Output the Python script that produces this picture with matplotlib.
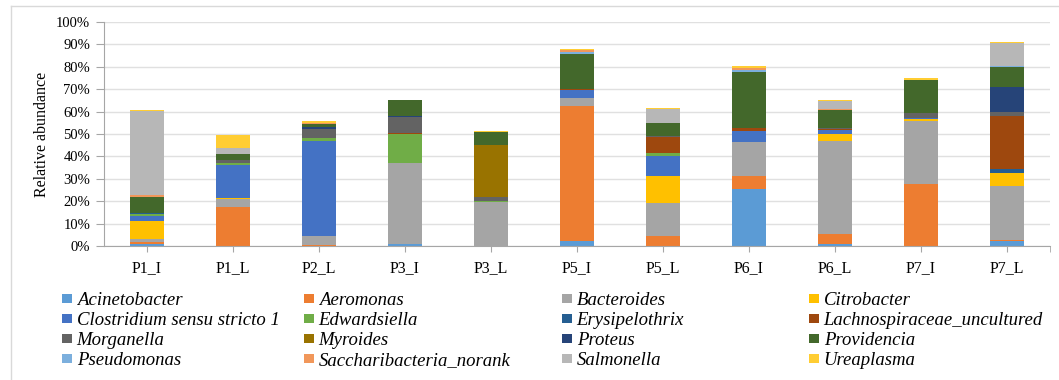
import numpy as np
import matplotlib
matplotlib.use("Agg")
import matplotlib.pyplot as plt
from matplotlib.lines import Line2D

plt.rcParams["font.family"] = ["Liberation Serif", "DejaVu Serif"]

samples = ["P1_I", "P1_L", "P2_L", "P3_I", "P3_L", "P5_I", "P5_L", "P6_I", "P6_L", "P7_I", "P7_L"]

# relative abundance (%) per genus, in sample order above
acinetobacter = [0.7, 0, 0, 0.7, 0, 2.1, 0, 25.4, 0.7, 0, 2.2]
aeromonas = [1.3, 17.3, 0.4, 0, 0, 60.6, 4.3, 6.0, 4.5, 27.7, 0.7]
bacteroides = [1.0, 3.7, 3.9, 36.4, 19.6, 3.4, 14.9, 15.0, 41.7, 28.3, 23.7]
citrobacter = [8.3, 0.6, 0, 0, 0, 0, 12.1, 0, 3.0, 0.6, 6.1]
clostridium = [2.1, 14.6, 42.6, 0, 0, 3.4, 9.1, 5.1, 1.8, 0.4, 0]
edwardsiella = [1.0, 1.0, 1.2, 13.1, 0.4, 0, 1.2, 0, 0, 0, 0]
erysipelothrix = [0.3, 0, 0, 0, 0, 0, 0, 0, 0, 0, 1.5]
lachnospiraceae = [0.1, 0, 0.3, 0.4, 0, 0.4, 7.0, 1.2, 0.5, 0, 23.7]
morganella = [0.1, 1.2, 4.0, 7.0, 1.9, 0.3, 0.3, 0, 0.4, 2.4, 1.9]
myroides = [0, 0, 0, 0, 23.1, 0, 0, 0, 0, 0, 0]
proteus = [0, 0, 0.6, 0.4, 0, 0, 0.3, 0, 0, 0, 11.3]
providencia = [7.0, 2.8, 1.5, 7.0, 5.8, 15.3, 5.8, 25.1, 8.2, 14.7, 8.8]
pseudomonas = [0, 0, 0, 0, 0, 1.2, 0, 0.9, 0, 0, 0.6]
saccharibacteria = [0.9, 0, 0.2, 0, 0, 0.6, 0, 0.9, 0.4, 0, 0]
salmonella = [37.5, 2.7, 0.4, 0, 0, 0, 6.0, 0, 3.6, 0, 10.0]
ureaplasma = [0.4, 5.8, 0.9, 0.4, 0.4, 0.7, 0.6, 0.7, 0.4, 0.7, 0.6]

genera = ["Acinetobacter", "Aeromonas", "Bacteroides", "Citrobacter",
          "Clostridium sensu stricto 1", "Edwardsiella", "Erysipelothrix",
          "Lachnospiraceae_uncultured", "Morganella", "Myroides", "Proteus",
          "Providencia", "Pseudomonas", "Saccharibacteria_norank",
          "Salmonella", "Ureaplasma"]
series = [acinetobacter, aeromonas, bacteroides, citrobacter, clostridium,
          edwardsiella, erysipelothrix, lachnospiraceae, morganella, myroides,
          proteus, providencia, pseudomonas, saccharibacteria, salmonella,
          ureaplasma]
colors = ["#5B9BD5", "#ED7D31", "#A5A5A5", "#FFC000", "#4472C4", "#70AD47",
          "#255E91", "#9E480E", "#636363", "#997300", "#264478", "#43682B",
          "#7CAFDD", "#F1975A", "#B7B7B7", "#FFCD33"]

W, H = 1059, 380
fig = plt.figure(figsize=(W / 100, H / 100), dpi=100)
ax = fig.add_axes([104 / W, 1 - 246 / H, (1050 - 104) / W, (246 - 22) / H])

x = np.arange(len(samples))
bottom = np.zeros(len(samples))
handles = []
for name, vals, col in zip(genera, series, colors):
    vals = np.asarray(vals, dtype=float)
    b = ax.bar(x, vals, width=0.4, bottom=bottom, color=col, label=name, linewidth=0)
    handles.append(b)
    bottom += vals

ax.set_xlim(-0.5, len(samples) - 0.5)
ax.set_ylim(0, 100)
ax.set_yticks(np.arange(0, 101, 10))
ax.set_yticklabels([f"{v}%" for v in range(0, 101, 10)], fontsize=10.5)
ax.set_xticks(x)
ax.set_xticklabels(samples, fontsize=11.5)
ax.set_xticks([len(samples) - 0.5], minor=True)
ax.tick_params(axis="x", which="both", length=4, color="#A6A6A6", pad=6)
ax.tick_params(axis="y", length=6, color="#A6A6A6", pad=4)
ax.set_ylabel("Relative abundance", fontsize=11.5, labelpad=4)
ax.yaxis.grid(True, color="#E0E0E0", linewidth=1)
ax.set_axisbelow(True)
for s in ["top", "right"]:
    ax.spines[s].set_visible(False)
for s in ["left", "bottom"]:
    ax.spines[s].set_color("#A6A6A6")

# legend: four columns, row-major order like the original
col_x = [62, 304, 562, 809]
for c in range(4):
    hs = handles[c::4]
    labs = genera[c::4]
    fig.legend(hs, labs, loc="upper left", bbox_to_anchor=(col_x[c] / W, 1 - 292 / H),
               frameon=False, ncol=1, prop={"style": "italic", "size": 13.5},
               handlelength=0.53, handleheight=0.37, handletextpad=0.25,
               labelspacing=0.16, borderpad=0, borderaxespad=0)

# chart border remnants (top and left edges)
fig.add_artist(Line2D([11 / W, 1], [1 - 6 / H, 1 - 6 / H], color="#D9D9D9", lw=1))
fig.add_artist(Line2D([11 / W, 11 / W], [0, 1 - 6 / H], color="#D9D9D9", lw=1))

fig.savefig("out.png", dpi=100)
